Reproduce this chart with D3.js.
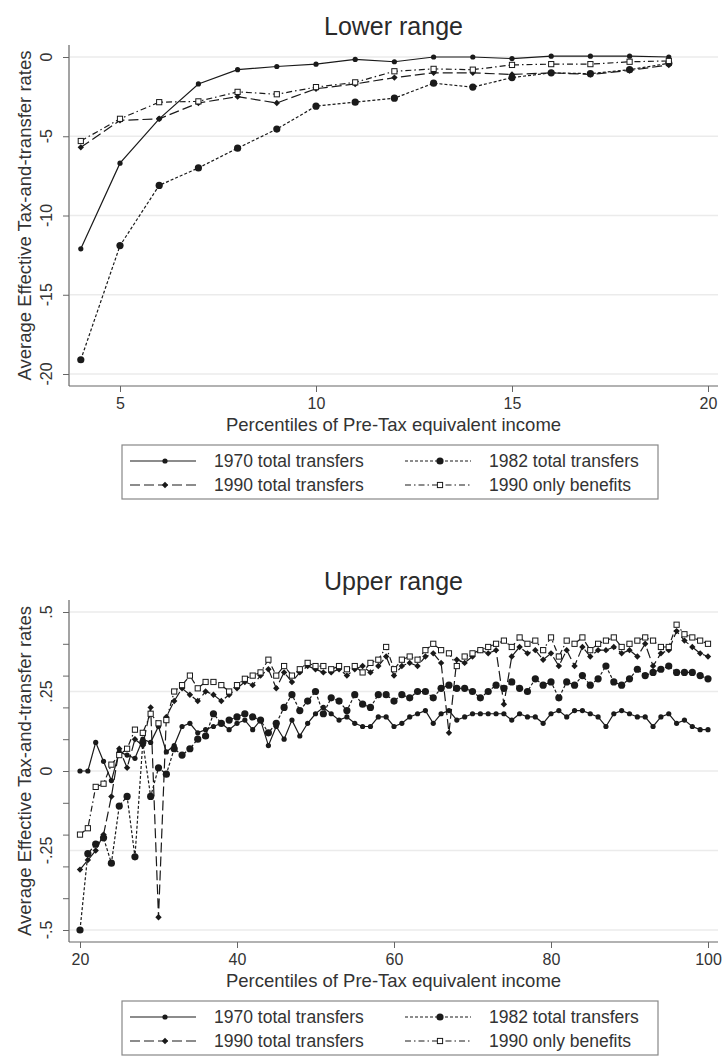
<!DOCTYPE html>
<html>
<head>
<meta charset="utf-8">
<script src="https://cdn.jsdelivr.net/npm/d3@7/dist/d3.min.js"></script>
<style>
  body { margin: 0; background: #fff; }
  svg text { font-family: "Liberation Sans", Arial, sans-serif; fill: #333; }
</style>
</head>
<body>
<div id="chart"></div>
<script>
// ---- data: lower range (percentiles 4..19) ----
const lowPct = [4, 5, 6, 7, 8, 9, 10, 11, 12, 13, 14, 15, 16, 17, 18, 19];
const low1970 = [-12.1, -6.7, -3.9, -1.7, -0.8, -0.6, -0.45, -0.15, -0.3, 0.0, 0.0, -0.1, 0.05, 0.05, 0.05, 0.0];
const low1982 = [-19.1, -11.9, -8.1, -7.0, -5.75, -4.55, -3.1, -2.85, -2.6, -1.65, -1.9, -1.3, -1.0, -1.05, -0.8, -0.4];
const low1990 = [-5.7, -4.0, -3.9, -2.9, -2.5, -2.9, -2.0, -1.7, -1.3, -1.0, -1.0, -1.1, -1.0, -1.1, -0.85, -0.5];
const lowBen = [-5.3, -3.9, -2.85, -2.8, -2.2, -2.35, -1.9, -1.6, -0.9, -0.75, -0.8, -0.5, -0.45, -0.45, -0.3, -0.25];

// ---- data: upper range (percentiles 20..100) ----
const highPct = [20, 21, 22, 23, 24, 25, 26, 27, 28, 29, 30, 31, 32, 33, 34, 35, 36, 37, 38, 39, 40,
  41, 42, 43, 44, 45, 46, 47, 48, 49, 50, 51, 52, 53, 54, 55, 56, 57, 58, 59, 60,
  61, 62, 63, 64, 65, 66, 67, 68, 69, 70, 71, 72, 73, 74, 75, 76, 77, 78, 79, 80,
  81, 82, 83, 84, 85, 86, 87, 88, 89, 90, 91, 92, 93, 94, 95, 96, 97, 98, 99, 100];
const high1970 = [0.00, 0.00, 0.09, 0.03, -0.03, 0.06, 0.05, 0.04, 0.10, 0.09, 0.14, 0.06, 0.08, 0.14, 0.15, 0.12, 0.13, 0.14, 0.15, 0.13, 0.15, 0.16,
  0.13, 0.16, 0.08, 0.14, 0.10, 0.16, 0.11, 0.15, 0.18, 0.20, 0.18, 0.16, 0.17, 0.15, 0.14, 0.14, 0.17, 0.17, 0.14, 0.15, 0.17, 0.18, 0.19, 0.15, 0.18, 0.19, 0.16, 0.17, 0.18, 0.18, 0.18, 0.18,
  0.18, 0.16, 0.18, 0.17, 0.17, 0.15, 0.18, 0.19, 0.17, 0.19, 0.19, 0.18, 0.17, 0.14, 0.18, 0.19, 0.18, 0.17, 0.17, 0.14, 0.17, 0.18, 0.15, 0.16, 0.14, 0.13, 0.13];
const high1982 = [-0.50, -0.26, -0.23, -0.21, -0.29, -0.11, -0.08, -0.27, 0.09, -0.08, 0.01, -0.01, 0.07, 0.05, 0.07, 0.10, 0.11, 0.18, 0.15, 0.16, 0.17, 0.18,
  0.17, 0.16, 0.12, 0.15, 0.20, 0.24, 0.19, 0.22, 0.25, 0.18, 0.23, 0.22, 0.19, 0.24, 0.21, 0.20, 0.24, 0.24, 0.22, 0.24, 0.23, 0.25, 0.25, 0.23, 0.26, 0.27, 0.26, 0.26, 0.25, 0.23, 0.25, 0.27,
  0.26, 0.28, 0.26, 0.25, 0.29, 0.27, 0.28, 0.23, 0.28, 0.27, 0.30, 0.27, 0.29, 0.33, 0.28, 0.27, 0.29, 0.32, 0.30, 0.31, 0.32, 0.33, 0.31, 0.31, 0.31, 0.30, 0.29];
const high1990 = [-0.31, -0.28, -0.25, -0.20, -0.08, 0.07, 0.01, 0.10, 0.08, 0.20, -0.46, 0.17, 0.22, 0.26, 0.24, 0.22, 0.25, 0.24, 0.22, 0.24, 0.26, 0.28,
  0.27, 0.30, 0.32, 0.26, 0.31, 0.28, 0.31, 0.33, 0.32, 0.31, 0.31, 0.32, 0.30, 0.32, 0.33, 0.31, 0.33, 0.36, 0.30, 0.33, 0.34, 0.33, 0.36, 0.37, 0.34, 0.12, 0.35, 0.34, 0.36, 0.38, 0.37, 0.38,
  0.21, 0.36, 0.39, 0.37, 0.38, 0.35, 0.37, 0.33, 0.38, 0.33, 0.39, 0.36, 0.38, 0.38, 0.39, 0.37, 0.38, 0.36, 0.40, 0.33, 0.37, 0.38, 0.44, 0.41, 0.39, 0.37, 0.36];
const highBen = [-0.20, -0.18, -0.05, -0.04, 0.02, 0.05, 0.07, 0.13, 0.12, 0.18, 0.15, 0.16, 0.25, 0.27, 0.30, 0.26, 0.28, 0.28, 0.27, 0.25, 0.27, 0.29,
  0.30, 0.31, 0.35, 0.30, 0.33, 0.30, 0.32, 0.34, 0.33, 0.33, 0.32, 0.33, 0.32, 0.33, 0.31, 0.34, 0.35, 0.39, 0.32, 0.35, 0.36, 0.35, 0.38, 0.40, 0.38, 0.37, 0.33, 0.36, 0.37, 0.38, 0.39, 0.40,
  0.41, 0.39, 0.42, 0.40, 0.41, 0.38, 0.42, 0.36, 0.41, 0.40, 0.42, 0.38, 0.40, 0.41, 0.42, 0.39, 0.40, 0.41, 0.42, 0.41, 0.39, 0.39, 0.46, 0.43, 0.42, 0.41, 0.40];

// ticks
const lowXTicks = [5, 10, 15, 20];
const lowYTicks = [-20, -15, -10, -5, 0];
const highXTicks = [20, 40, 60, 80, 100];
const highYTicks = [-0.5, -0.25, 0, 0.25, 0.5];
const highYMinor = [-0.5, -0.4, -0.3, -0.2, -0.1, 0, 0.1, 0.2, 0.3, 0.4, 0.5];

const seriesNames = ["1970 total transfers", "1982 total transfers", "1990 total transfers", "1990 only benefits"];

const W = 726, H = 1061;
const ink = "#1a1a1a";

// line style per series (1970, 1982, 1990 total, 1990 benefits)
const styles = [
  {dash: null, marker: "dot", r: 2.6},
  {dash: "3,2", marker: "dot", r: 3.6},
  {dash: "10,4", marker: "diamond", r: 3.2},
  {dash: "6,3,1.5,3", marker: "square", r: 2.6}
];

let svg = d3.select("#chart")
  .append("svg")
  .attr("width", W)
  .attr("height", H);

function fmtY(d) {
  if (d === 0) return "0";
  return String(d).replace("0.", ".");
}

function drawMarker(g, st, cx, cy) {
  if (st.marker === "dot") {
    g.append("circle").attr("cx", cx).attr("cy", cy).attr("r", st.r).attr("fill", ink);
  } else if (st.marker === "diamond") {
    let s = st.r;
    g.append("path")
      .attr("d", `M${cx},${cy - s}L${cx + s},${cy}L${cx},${cy + s}L${cx - s},${cy}Z`)
      .attr("fill", ink);
  } else {
    let s = st.r;
    g.append("rect")
      .attr("x", cx - s).attr("y", cy - s)
      .attr("width", 2 * s).attr("height", 2 * s)
      .attr("fill", "#fff").attr("stroke", ink).attr("stroke-width", 1);
  }
}

function panel(cfg) {
  let g = svg.append("g");
  let x = d3.scaleLinear().domain(cfg.xDom).range(cfg.xRange);
  let y = d3.scaleLinear().domain(cfg.yDom).range(cfg.yRange);

  // title
  g.append("text")
    .attr("x", (cfg.left + cfg.right) / 2)
    .attr("y", cfg.titleY)
    .attr("text-anchor", "middle")
    .style("font-size", "25px")
    .style("fill", "#2a2a2a")
    .text(cfg.title);

  // grid
  g.append("g").selectAll("line")
    .data(cfg.yTicks)
    .enter().append("line")
    .attr("x1", cfg.left + 1).attr("x2", cfg.right)
    .attr("y1", d => y(d)).attr("y2", d => y(d))
    .attr("stroke", "#ebebeb").attr("stroke-width", 1.6);

  // axes lines
  g.append("line")
    .attr("x1", cfg.left).attr("x2", cfg.left)
    .attr("y1", cfg.top).attr("y2", cfg.bottom)
    .attr("stroke", "#666").attr("stroke-width", 1.2);
  g.append("line")
    .attr("x1", cfg.left).attr("x2", cfg.right)
    .attr("y1", cfg.bottom).attr("y2", cfg.bottom)
    .attr("stroke", "#666").attr("stroke-width", 1.2);

  // y axis
  let yAx = g.append("g")
    .attr("transform", `translate(${cfg.left},0)`)
    .call(d3.axisLeft(y).tickValues(cfg.yMinor || cfg.yTicks).tickSize(6).tickFormat(""));
  yAx.select(".domain").remove();
  yAx.selectAll("line").attr("stroke", "#666");

  g.append("g").selectAll("text")
    .data(cfg.yTicks)
    .enter().append("text")
    .attr("transform", d => `translate(${cfg.left - 17},${y(d)}) rotate(-90)`)
    .attr("text-anchor", "middle")
    .style("font-size", "16px")
    .text(fmtY);

  // x axis
  let xAx = g.append("g")
    .attr("transform", `translate(0,${cfg.bottom})`)
    .call(d3.axisBottom(x).tickValues(cfg.xTicks).tickSize(6).tickPadding(6));
  xAx.select(".domain").remove();
  xAx.selectAll("line").attr("stroke", "#666");
  xAx.selectAll("text")
    .style("font-size", "16px")
    .style("font-family", "Liberation Sans, Arial, sans-serif")
    .attr("fill", "#333");

  // axis titles
  g.append("text")
    .attr("x", (cfg.left + cfg.right) / 2)
    .attr("y", cfg.bottom + 45)
    .attr("text-anchor", "middle")
    .style("font-size", "18.5px")
    .text("Percentiles of Pre-Tax equivalent income");

  g.append("text")
    .attr("transform", `translate(31,${(cfg.top + cfg.bottom) / 2}) rotate(-90)`)
    .attr("text-anchor", "middle")
    .style("font-size", "18.5px")
    .text("Average Effective Tax-and-transfer rates");

  // series
  let line = d3.line().x(d => x(d.p)).y(d => y(d.v));
  cfg.series.forEach((vals, k) => {
    let st = styles[k];
    let pts = cfg.pct.map((p, i) => ({p: p, v: vals[i]}));
    g.append("path")
      .datum(pts)
      .attr("d", line)
      .attr("fill", "none")
      .attr("stroke", ink)
      .attr("stroke-width", 1.2)
      .attr("stroke-dasharray", st.dash);
    let mg = g.append("g");
    pts.forEach(d => drawMarker(mg, st, x(d.p), y(d.v)));
  });

  // legend
  let ly = cfg.bottom + 59;
  let lg = g.append("g");
  lg.append("rect")
    .attr("x", 122).attr("y", ly)
    .attr("width", 536).attr("height", 54)
    .attr("fill", "#fff").attr("stroke", "#888").attr("stroke-width", 1.2);
  let cols = [130, 405];
  seriesNames.forEach((name, k) => {
    let st = styles[k];
    let cx = cols[k % 2];
    let cy = ly + 16 + Math.floor(k / 2) * 24;
    lg.append("line")
      .attr("x1", cx).attr("x2", cx + 66)
      .attr("y1", cy).attr("y2", cy)
      .attr("stroke", ink).attr("stroke-width", 1.2)
      .attr("stroke-dasharray", st.dash);
    drawMarker(lg, st, cx + 35, cy);
    lg.append("text")
      .attr("x", cx + 84).attr("y", cy + 6)
      .style("font-size", "17.5px")
      .text(name);
  });
}

panel({
  title: "Lower range", titleY: 35,
  left: 69, right: 718, top: 45, bottom: 386,
  xDom: [5, 20], xRange: [120, 708],
  yDom: [-20, 0], yRange: [374, 57],
  xTicks: lowXTicks, yTicks: lowYTicks,
  pct: lowPct,
  series: [low1970, low1982, low1990, lowBen]
});

panel({
  title: "Upper range", titleY: 590,
  left: 69, right: 718, top: 600, bottom: 942,
  xDom: [20, 100], xRange: [80, 708],
  yDom: [-0.5, 0.5], yRange: [930, 612],
  xTicks: highXTicks, yTicks: highYTicks, yMinor: highYMinor,
  pct: highPct,
  series: [high1970, high1982, high1990, highBen]
});
</script>
</body>
</html>
